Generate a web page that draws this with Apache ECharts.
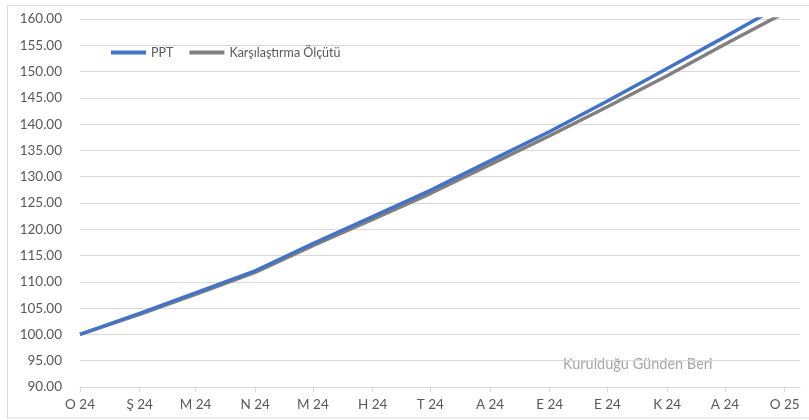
<!DOCTYPE html>
<html>
<head>
<meta charset="utf-8">
<script src="https://cdn.jsdelivr.net/npm/echarts@6/dist/echarts.min.js"></script>
<style>
html,body{margin:0;padding:0;background:#fff;}
#chart{width:809px;height:420px;}
</style>
</head>
<body>
<div id="chart"></div>
<script>
// Month starts (x positions) and their tick labels
const monthDates = ['2024-01-01','2024-02-01','2024-03-01','2024-04-01','2024-05-01','2024-06-01','2024-07-01','2024-08-01','2024-09-01','2024-10-01','2024-11-01','2024-12-01','2025-01-01'];
const tickLabels = ['O 24','Ş 24','M 24','N 24','M 24','H 24','T 24','A 24','E 24','E 24','K 24','A 24','O 25'];
// Series values read at each month start
const pptValues = [100.0, 104.0, 107.9, 112.1, 117.3, 122.4, 127.4, 133.0, 138.6, 144.4, 150.6, 156.6, 163.0];
const benchValues = [100.0, 103.8, 107.6, 111.8, 116.9, 121.9, 126.8, 132.3, 137.8, 143.3, 149.2, 155.2, 161.2];
const seriesNames = ['PPT', 'Karşılaştırma Ölçütü'];
const yTicks = {min: 90, max: 160, interval: 5};
const watermark = 'Kurulduğu Günden Beri';

const FONT = 'Lato';
const DAY = 86400000;
const monthTs = monthDates.map(d => Date.UTC(+d.slice(0,4), +d.slice(5,7) - 1, +d.slice(8,10)) / DAY);
const xMax = Date.UTC(2025, 0, 9) / DAY;

const chart = echarts.init(document.getElementById('chart'), null, {renderer: 'canvas'});
chart.setOption({
  animation: false,
  backgroundColor: '#ffffff',
  textStyle: {fontFamily: FONT},
  grid: {left: 80, right: 9, top: 19, bottom: 33, containLabel: false},
  legend: {
    left: 106, top: 41,
    icon: 'rect', itemWidth: 35, itemHeight: 4, itemGap: 16,
    textStyle: {fontFamily: FONT, fontSize: 12.5, color: '#595959'},
    data: seriesNames
  },
  xAxis: {
    type: 'value',
    min: monthTs[0], max: xMax,
    axisLine: {show: true, onZero: false, lineStyle: {color: '#D9D9D9', width: 1}},
    axisTick: {show: true, length: 5, lineStyle: {color: '#D9D9D9'}, customValues: monthTs},
    axisLabel: {
      customValues: monthTs,
      margin: 11,
      fontFamily: FONT, fontSize: 13.5, color: '#595959',
      formatter: function (v) {
        const i = monthTs.indexOf(+v);
        return i >= 0 ? tickLabels[i] : '';
      }
    },
    splitLine: {show: false}
  },
  yAxis: {
    type: 'value',
    min: yTicks.min, max: yTicks.max, interval: yTicks.interval,
    axisLine: {show: false},
    axisTick: {show: false},
    axisLabel: {
      margin: 18, fontFamily: FONT, fontSize: 13.5, color: '#595959',
      formatter: v => v.toFixed(2)
    },
    splitLine: {show: true, lineStyle: {color: '#D9D9D9', width: 1}}
  },
  graphic: [
    {type: 'rect', silent: true, shape: {x: 7.5, y: 5.5, width: 810, height: 412.5},
     style: {fill: 'none', stroke: '#D9D9D9', lineWidth: 1}},
    {type: 'text', silent: true, left: 563, top: 357,
     style: {text: watermark, fill: '#A6A6A6', font: '14.5px ' + FONT}}
  ],
  series: [
    {
      name: seriesNames[0], type: 'line', z: 3,
      data: monthTs.map((t, i) => [t, pptValues[i]]),
      showSymbol: false, symbol: 'none', clip: true,
      lineStyle: {color: '#4472C4', width: 3.5},
      itemStyle: {color: '#4472C4'}
    },
    {
      name: seriesNames[1], type: 'line', z: 2,
      data: monthTs.map((t, i) => [t, benchValues[i]]),
      showSymbol: false, symbol: 'none', clip: true,
      lineStyle: {color: '#808080', width: 3.5},
      itemStyle: {color: '#808080'}
    }
  ]
});
</script>
</body>
</html>
